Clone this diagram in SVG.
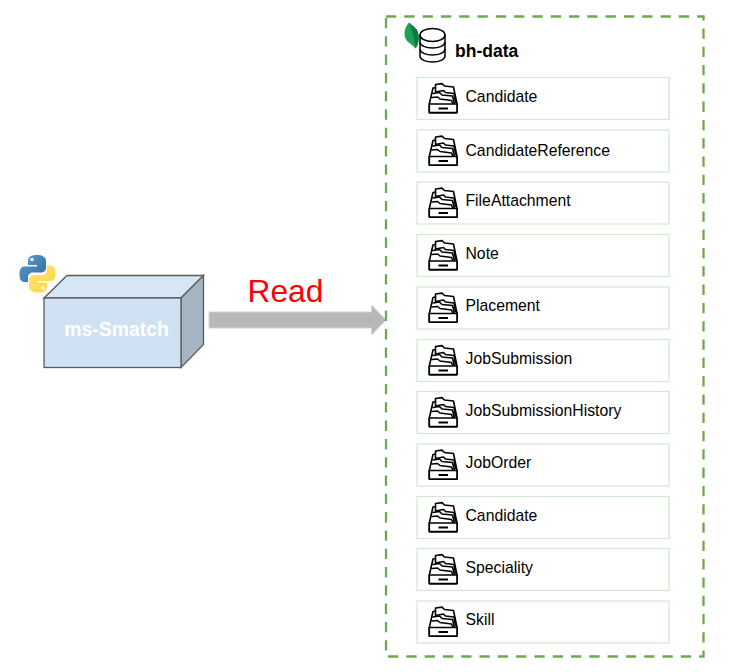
<svg xmlns="http://www.w3.org/2000/svg" width="737" height="672" viewBox="0 0 737 672">
<style>
text{font-family:"Liberation Sans",Arial,sans-serif}
.row{fill:#fff;stroke:#d5e8d4;stroke-width:1.3}
.lbl{font-size:15.750px;fill:#000}
.ic{fill:#fff;stroke:#000;stroke-width:1.600;stroke-linejoin:round;stroke-linecap:round}
</style>
<defs>
<g id="tray">
<path class="ic" d="M.8 21 L4.500 5 L7 4.500 L7 1.500 L13.500 .6 L16 3 L25 4 L28.500 21 V29.600 H.8Z"/>
<path class="ic" d="M7 4.500 V9 M7 9 L15 7.500 L17 9.500 L25.500 10.500 L27 19" fill="none"/>
<path class="ic" d="M4.500 10.500 L11 9.500 L13.500 12 L24 13 L26 21" fill="none"/>
<path class="ic" d="M3.500 14.500 L9 14 L11.500 16 L23 17.500 L24.500 21" fill="none"/>
<path class="ic" d="M.8 21 H28.500 V29.600 H.8Z"/>
<path d="M10 25.500 H19.500" stroke="#000" stroke-width="2" fill="none"/>
</g>
<linearGradient id="py1" x1="0" y1="0" x2="1" y2="1"><stop offset="0" stop-color="#5a9fd4"/><stop offset="1" stop-color="#306998"/></linearGradient>
<linearGradient id="py2" x1="0" y1="0" x2="1" y2="1"><stop offset="0" stop-color="#ffe873"/><stop offset="1" stop-color="#ffd43b"/></linearGradient>
</defs>
<g id="connectors">
<path d="M209 312 H371.500 V305 L386 320 L371.500 335 V328 H209Z" fill="#b8b8b8" stroke="#d4d4d4" stroke-width="1"/>
</g>
<text x="285.500" y="302" font-size="31.700" fill="#ff0000" text-anchor="middle">Read</text>
<g id="ms-smatch">
<path d="M44 298 L67 275.500 H203.500 L181 298Z" fill="#d7e6f4" stroke="#5a5a5a" stroke-width="1.300"/>
<path d="M181 298 L203.500 275.500 V344.500 L181 367.500Z" fill="#a5b5c3" stroke="#5a5a5a" stroke-width="1.300"/>
<rect x="44" y="298" width="137" height="69.500" fill="#cfe1f3" stroke="#5a5a5a" stroke-width="1.300"/>
<text x="116.500" y="336" font-size="19.400" font-weight="bold" fill="#fff" text-anchor="middle">ms-Smatch</text>
</g>
<g id="python-logo">
<path d="M37 255 C31 255 28 257 28 261 V265 H37 V266.500 H24.500 C21 266.500 19.500 270 19.500 274 C19.500 279 21 282 24.500 282 H28 V277.500 C28 274.500 30 272.500 33 272.500 H41 C44 272.500 46 270.500 46 268 V260.500 C46 257 42 255 37 255Z" fill="url(#py1)"/>
<circle cx="32" cy="259.500" r="1.700" fill="#fff"/>
<path d="M38 292.500 C44 292.500 47 290.500 47 286.500 V282.500 H38 V281 H50.500 C54 281 55.500 277.500 55.500 273.500 C55.500 268.500 54 265.500 50.500 265.500 H47 V270 C47 273 45 275 42 275 H34 C31 275 29 277 29 279.500 V287 C29 290.500 33 292.500 38 292.500Z" fill="url(#py2)"/>
<circle cx="43" cy="288" r="1.700" fill="#fff"/>
</g>
<g id="bh-data">
<rect x="386" y="16.500" width="317.500" height="640" fill="none" stroke="#6ea950" stroke-width="2.300" stroke-dasharray="10.300 8"/>
<path d="M409 22.500 C404 28 403 36 407 41 C410 44 414 46 415.500 48.500 C419 44 420 36 417 30 C415 27 411 25 409 22.500Z" fill="#1fa055"/>
<path d="M409 22.500 C412 30 414.500 38 415.500 48.500 C419 44 420 36 417 30 C415 27 411 25 409 22.500Z" fill="#0f7a40"/>
<g fill="none" stroke="#000" stroke-width="1.500">
<path d="M420 35 V56 C420 59.500 426 62 432.500 62 C439 62 445 59.500 445 56 V35" fill="#fff"/>
<ellipse cx="432.500" cy="35" rx="12.500" ry="6.500" fill="#fff"/>
<path d="M420 42 C420 45.500 426 48 432.500 48 C439 48 445 45.500 445 42"/>
<path d="M420 49 C420 52.500 426 55 432.500 55 C439 55 445 52.500 445 49"/>
</g>
<text x="455" y="57" font-size="17.500" font-weight="bold" fill="#000">bh-data</text>
</g>
<g id="t1"><rect class="row" x="417" y="77.500" width="252" height="42"/><use href="#tray" x="428.500" y="83"/><text class="lbl" x="465.500" y="102">Candidate</text></g>
<g id="t2"><rect class="row" x="417" y="130" width="252" height="42"/><use href="#tray" x="428.500" y="135.500"/><text class="lbl" x="465.500" y="155.500">CandidateReference</text></g>
<g id="t3"><rect class="row" x="417" y="182" width="252" height="42"/><use href="#tray" x="428.500" y="187.500"/><text class="lbl" x="465.500" y="206">FileAttachment</text></g>
<g id="t4"><rect class="row" x="417" y="234.500" width="252" height="42"/><use href="#tray" x="428.500" y="240"/><text class="lbl" x="465.500" y="259">Note</text></g>
<g id="t5"><rect class="row" x="417" y="287" width="252" height="42"/><use href="#tray" x="428.500" y="292.500"/><text class="lbl" x="465.500" y="311">Placement</text></g>
<g id="t6"><rect class="row" x="417" y="339.500" width="252" height="42"/><use href="#tray" x="428.500" y="345"/><text class="lbl" x="465.500" y="364">JobSubmission</text></g>
<g id="t7"><rect class="row" x="417" y="391.500" width="252" height="42"/><use href="#tray" x="428.500" y="397"/><text class="lbl" x="465.500" y="416">JobSubmissionHistory</text></g>
<g id="t8"><rect class="row" x="417" y="444" width="252" height="42"/><use href="#tray" x="428.500" y="449.500"/><text class="lbl" x="465.500" y="468">JobOrder</text></g>
<g id="t9"><rect class="row" x="417" y="496.500" width="252" height="42"/><use href="#tray" x="428.500" y="502"/><text class="lbl" x="465.500" y="521">Candidate</text></g>
<g id="t10"><rect class="row" x="417" y="548.500" width="252" height="42"/><use href="#tray" x="428.500" y="554"/><text class="lbl" x="465.500" y="573">Speciality</text></g>
<g id="t11"><rect class="row" x="417" y="601" width="252" height="42"/><use href="#tray" x="428.500" y="606.500"/><text class="lbl" x="465.500" y="625">Skill</text></g>
</svg>
